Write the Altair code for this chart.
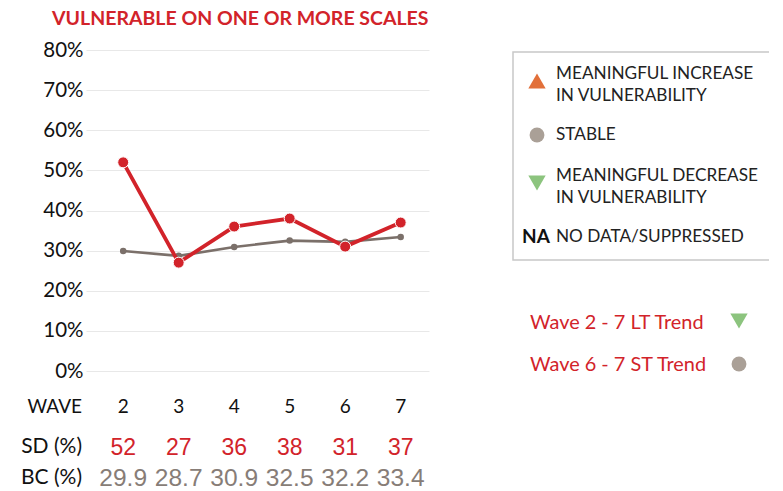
import altair as alt
import pandas as pd

waves = [2, 3, 4, 5, 6, 7]
sd_values = [52, 27, 36, 38, 31, 37]
bc_values = [29.9, 28.7, 30.9, 32.5, 32.2, 33.4]
y_ticks = [0, 0.1, 0.2, 0.3, 0.4, 0.5, 0.6, 0.7, 0.8]

RED = "#d2232a"
GRAY_LINE = "#7b706a"
GRAY_TXT = "#877d77"
ORANGE = "#e2703a"
STABLE = "#aaa097"
GREEN = "#8cc47e"
FONT = "Lato"
NUMFONT = "Liberation Sans"

df = pd.DataFrame({
    "wave": waves * 2,
    "value": [v / 100 for v in sd_values] + [v / 100 for v in bc_values],
    "series": ["SD"] * 6 + ["BC"] * 6,
    "label": [str(v) for v in sd_values] + [f"{v:.1f}" for v in bc_values],
})
sd = df[df.series == "SD"]
bc = df[df.series == "BC"]

xscale = alt.Scale(domain=[1.33, 7.51], nice=False, zero=False)
x = alt.X("wave:Q", scale=xscale, axis=None)
yaxis = alt.Axis(values=y_ticks, format=".0%", grid=True, gridColor="#e8e8e8",
                 gridWidth=1, domain=False, ticks=False, labelPadding=3,
                 labelFontSize=20.5, labelFont=FONT, labelColor="#111", title=None)
y = alt.Y("value:Q", scale=alt.Scale(domain=[0, 0.8]), axis=yaxis)

bc_line = alt.Chart(bc).mark_line(color=GRAY_LINE, strokeWidth=2.7).encode(x=x, y=y)
bc_pts = alt.Chart(bc).mark_point(filled=True, color=GRAY_LINE, size=42, opacity=1).encode(x=x, y=y)
sd_line = alt.Chart(sd).mark_line(color=RED, strokeWidth=3.8).encode(x=x, y=y)
sd_pts = alt.Chart(sd).mark_point(filled=True, fill=RED, stroke="white", strokeWidth=1,
                                  size=120, opacity=1).encode(x=x, y=y)

wave_row = alt.Chart(sd).mark_text(fontSize=19, font=FONT, color="#111", baseline="middle").encode(
    x=x, y=alt.value(357), text="wave:N")
sd_row = alt.Chart(sd).mark_text(fontSize=23, font=NUMFONT, color=RED, baseline="middle").encode(
    x=x, y=alt.value(398), text="label:N")
bc_row = alt.Chart(bc).mark_text(fontSize=24.5, font=NUMFONT, color=GRAY_TXT, baseline="middle").encode(
    x=x, y=alt.value(429), text="label:N")

row_labels = pd.DataFrame({"t": ["WAVE", "SD (%)", "BC (%)"], "yy": [357, 397, 428],
                           "fs": [19, 21, 21]})
row_lab = alt.Chart(row_labels).mark_text(font=FONT, color="#111", align="right",
                                          baseline="middle").encode(
    x=alt.value(-4), y=alt.Y("yy:Q", scale=None), text="t:N",
    size=alt.Size("fs:Q", scale=None))

title_df = pd.DataFrame({"t": ["VULNERABLE ON ONE OR MORE SCALES"]})
title = alt.Chart(title_df).mark_text(fontSize=19.5, font=FONT, fontWeight="bold", color=RED,
                                      align="left", baseline="middle").encode(
    x=alt.value(-34), y=alt.value(-31), text="t:N")

one = pd.DataFrame({"a": [1]})
box = alt.Chart(one).mark_rect(fill="white", stroke="#c8c8c8", strokeWidth=1.5).encode(
    x=alt.value(427), x2=alt.value(687), y=alt.value(2), y2=alt.value(210))

legend_text = pd.DataFrame({
    "t": ["MEANINGFUL INCREASE", "IN VULNERABILITY", "STABLE", "MEANINGFUL DECREASE",
          "IN VULNERABILITY", "NO DATA/SUPPRESSED"],
    "yy": [24, 46, 85, 126, 148, 187],
})
leg_txt = alt.Chart(legend_text).mark_text(fontSize=17.2, font=FONT, color="#222", align="left",
                                           baseline="middle").encode(
    x=alt.value(470), y=alt.Y("yy:Q", scale=None), text="t:N")
na_txt = alt.Chart(pd.DataFrame({"t": ["NA"]})).mark_text(
    fontSize=19, font=FONT, fontWeight="bold", color="#111", align="left", baseline="middle").encode(
    x=alt.value(436), y=alt.value(187), text="t:N")

syms = pd.DataFrame({
    "shape": ["triangle-up", "circle", "triangle-down", "triangle-down", "circle"],
    "color": [ORANGE, STABLE, GREEN, GREEN, STABLE],
    "xx": [451, 451, 451, 653, 653],
    "yy": [31, 85, 133, 271, 314],
    "sz": [300, 220, 300, 300, 220],
})
sym = alt.Chart(syms).mark_point(filled=True, opacity=1).encode(
    x=alt.X("xx:Q", scale=None), y=alt.Y("yy:Q", scale=None),
    shape=alt.Shape("shape:N", scale=None), color=alt.Color("color:N", scale=None),
    size=alt.Size("sz:Q", scale=None))

trend = pd.DataFrame({"t": ["Wave 2 - 7 LT Trend", "Wave 6 - 7 ST Trend"], "yy": [273, 315]})
trend_txt = alt.Chart(trend).mark_text(fontSize=19.9, font=FONT, color=RED, align="left",
                                       baseline="middle").encode(
    x=alt.value(444), y=alt.Y("yy:Q", scale=None), text="t:N")

chart = alt.layer(
    bc_line, bc_pts, sd_line, sd_pts, wave_row, sd_row, bc_row, row_lab, title,
    box, leg_txt, na_txt, sym, trend_txt
).properties(
    width=343, height=321,
    autosize=alt.AutoSizeParams(type="none"),
    padding={"left": 78, "top": 42, "right": 340, "bottom": 120},
).configure_view(stroke=None)

chart.save("out.html", embed_options={"renderer": "svg", "actions": False})
